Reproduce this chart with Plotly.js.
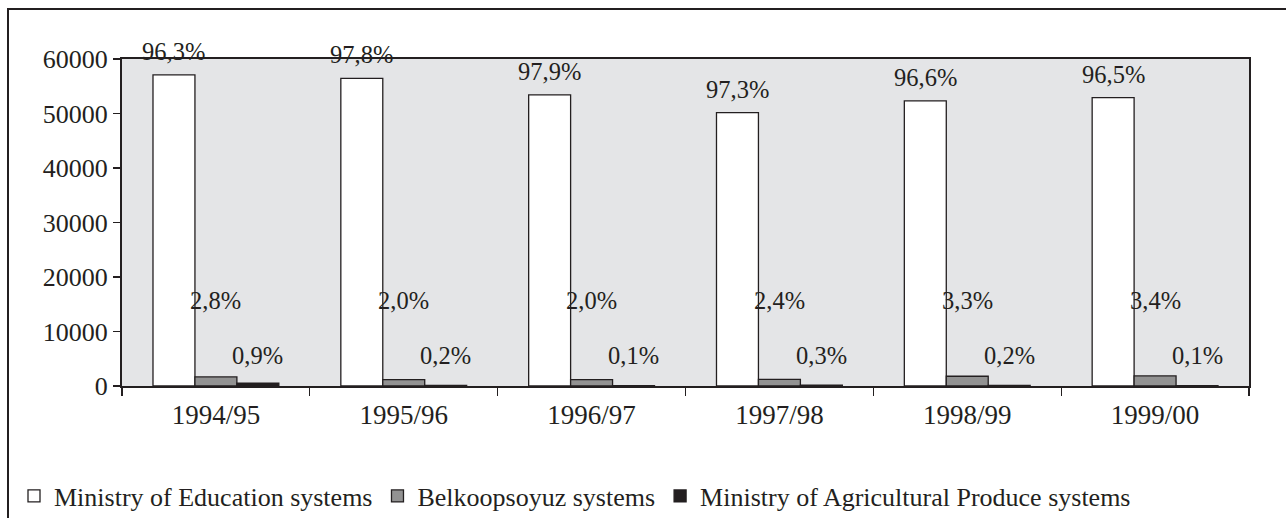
<!DOCTYPE html>
<html>
<head>
<meta charset="utf-8">
<script src="https://cdn.plot.ly/plotly-3.0.1.min.js"></script>
<style>
  html, body { margin: 0; padding: 0; background: #ffffff; }
  #wrap { position: relative; width: 1286px; height: 518px; overflow: hidden; }
  #chart { position: absolute; left: 0; top: 0; width: 1286px; height: 518px; }
  #frame { position: absolute; left: 7px; top: 8px; width: 2000px; height: 2000px;
           border-left: 2px solid #231f20; border-top: 2px solid #231f20; pointer-events: none; }
</style>
</head>
<body>
<div id="wrap">
  <div id="chart"></div>
  <div id="frame"></div>
</div>
<script>
// ---- data ----
const years = ['1994/95', '1995/96', '1996/97', '1997/98', '1998/99', '1999/00'];
const educationValues = [57100, 56450, 53400, 50150, 52300, 52900];
const belkoopValues = [1660, 1180, 1180, 1230, 1790, 1840];
const agricultureValues = [530, 115, 55, 155, 110, 55];
const educationPct = ['96,3%', '97,8%', '97,9%', '97,3%', '96,6%', '96,5%'];
const belkoopPct = ['2,8%', '2,0%', '2,0%', '2,4%', '3,3%', '3,4%'];
const agriculturePct = ['0,9%', '0,2%', '0,1%', '0,3%', '0,2%', '0,1%'];
const seriesNames = ['Ministry of Education systems', 'Belkoopsoyuz systems', 'Ministry of Agricultural Produce systems'];
const yTickValues = [0, 10000, 20000, 30000, 40000, 50000, 60000];

// ---- style ----
const FONT = 'Liberation Serif, Times New Roman, serif';
const INK = '#231f20';
const W = 1286, H = 518;
const margin = { l: 122, r: 37, t: 59, b: 132, autoexpand: false };
const bargap = 0.33;
const plotW = W - margin.l - margin.r;
const plotH = H - margin.t - margin.b;
const barW = (plotW / years.length) * (1 - bargap) / 3;

const lineStyle = { color: INK, width: 1.3 };
const traces = [
  { type: 'bar', name: seriesNames[0], x: years, y: educationValues,
    marker: { color: '#ffffff', line: lineStyle } },
  { type: 'bar', name: seriesNames[1], x: years, y: belkoopValues,
    marker: { color: '#929292', line: lineStyle } },
  { type: 'bar', name: seriesNames[2], x: years, y: agricultureValues,
    marker: { color: '#231f20', line: lineStyle } }
];

const labelFont = { family: FONT, size: 24.5, color: INK };
const annotations = [];
years.forEach((yr, i) => {
  annotations.push({ x: yr, y: educationValues[i], xref: 'x', yref: 'y', text: educationPct[i],
    showarrow: false, xshift: -barW, yanchor: 'bottom', yshift: 8, font: labelFont });
  annotations.push({ x: yr, y: 15700, xref: 'x', yref: 'y', text: belkoopPct[i],
    showarrow: false, xshift: 0, yanchor: 'middle', font: labelFont });
  annotations.push({ x: yr, y: 5600, xref: 'x', yref: 'y', text: agriculturePct[i],
    showarrow: false, xshift: barW, yanchor: 'middle', font: labelFont });
});

const layout = {
  width: W, height: H,
  margin: margin,
  paper_bgcolor: 'rgba(0,0,0,0)',
  plot_bgcolor: '#e4e5e7',
  font: { family: FONT, size: 24, color: INK },
  barmode: 'group',
  bargap: bargap,
  bargroupgap: 0,
  showlegend: true,
  legend: {
    orientation: 'h',
    x: (14 - margin.l) / plotW, xanchor: 'left',
    y: (H - margin.b - 496) / plotH, yanchor: 'middle',
    font: { family: FONT, size: 26, color: INK },
    itemgap: 0,
    bgcolor: 'rgba(0,0,0,0)',
    traceorder: 'normal'
  },
  xaxis: {
    type: 'category',
    showline: true, linecolor: INK, linewidth: 2, mirror: true,
    ticks: 'outside', tickson: 'boundaries', ticklen: 8, tickwidth: 1.3, tickcolor: INK,
    ticklabelstandoff: 4,
    tickfont: { family: FONT, size: 27, color: INK },
    showgrid: false, zeroline: false, fixedrange: true
  },
  yaxis: {
    range: [0, 60000],
    tickvals: yTickValues,
    tickformat: 'd',
    showline: true, linecolor: INK, linewidth: 2, mirror: true,
    ticks: 'outside', ticklen: 7, tickwidth: 1.3, tickcolor: INK,
    tickfont: { family: FONT, size: 26, color: INK },
    showgrid: false, zeroline: false, fixedrange: true
  },
  annotations: annotations
};

Plotly.newPlot('chart', traces, layout, { displayModeBar: false, staticPlot: true });
</script>
</body>
</html>
